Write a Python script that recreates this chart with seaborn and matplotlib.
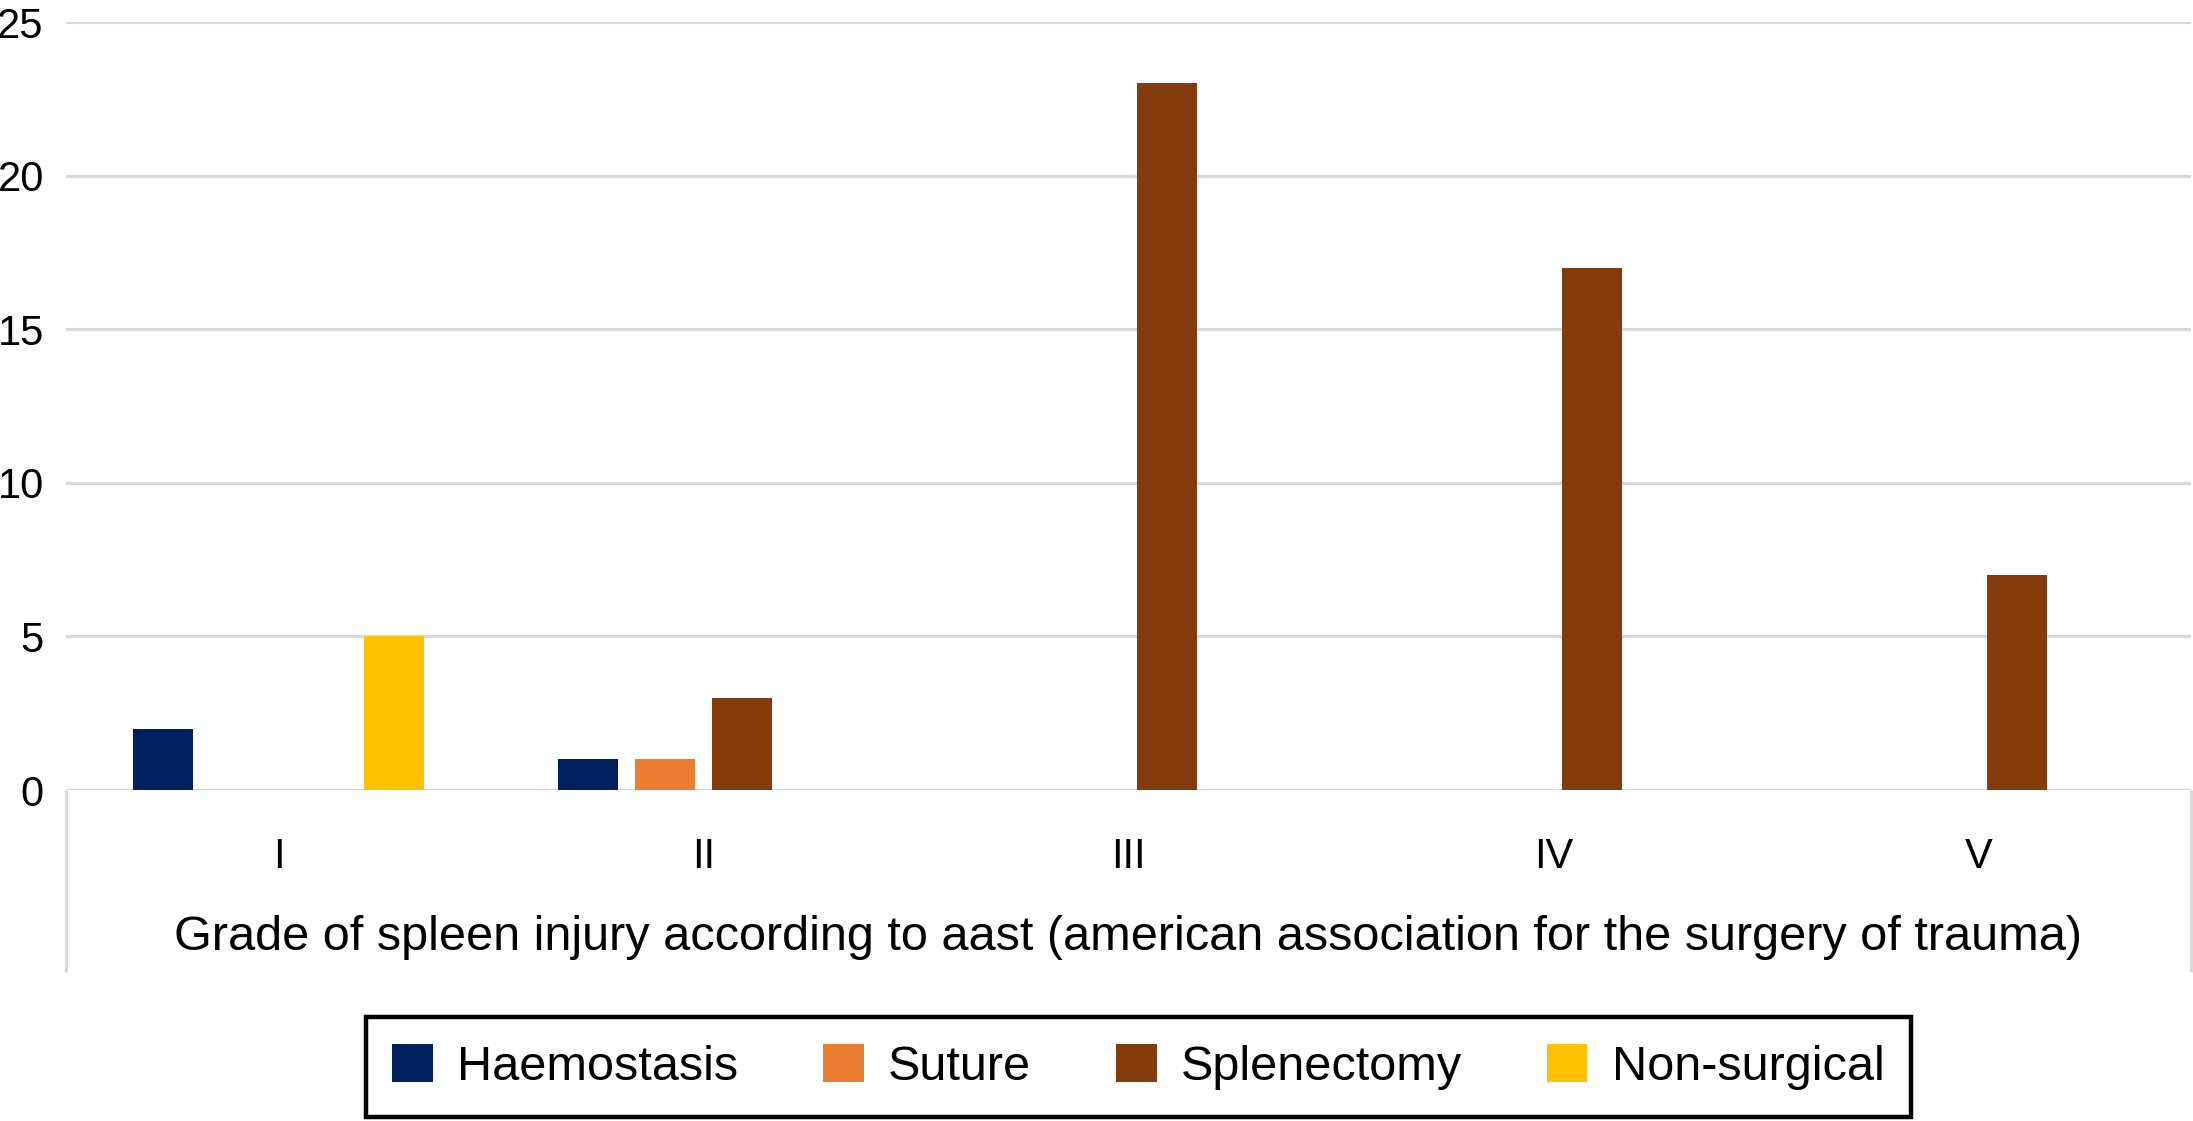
import matplotlib
matplotlib.use("Agg")
import matplotlib.pyplot as plt
import seaborn as sns
import pandas as pd

# ---- data ----
grades = ["I", "II", "III", "IV", "V"]
treatments = ["Haemostasis", "Suture", "Splenectomy", "Non-surgical"]
haemostasis = [2, 1, 0, 0, 0]
suture = [0, 1, 0, 0, 0]
splenectomy = [0, 3, 23, 17, 7]
non_surgical = [5, 0, 0, 0, 0]
y_ticks = [0, 5, 10, 15, 20, 25]
x_label = "Grade of spleen injury according to aast (american association for the surgery of trauma)"

colors = ["#002060", "#ED7D31", "#843C0C", "#FFC000"]

series = {"Haemostasis": haemostasis, "Suture": suture,
          "Splenectomy": splenectomy, "Non-surgical": non_surgical}
rows = []
for t in treatments:
    for g, v in zip(grades, series[t]):
        rows.append({"grade": g, "treatment": t, "count": v})
df = pd.DataFrame(rows)

sns.set_theme(style="white")
plt.rcParams["font.family"] = ["Liberation Sans", "DejaVu Sans"]
plt.rcParams["text.color"] = "black"

W, H = 2193, 1121
fig = plt.figure(figsize=(W / 100, H / 100), dpi=100)
ax_left, ax_right = 66, 2191
ax_top, ax_bottom = 22, 790
ax = fig.add_axes([ax_left / W, 1 - ax_bottom / H,
                   (ax_right - ax_left) / W, (ax_bottom - ax_top) / H])

sns.barplot(data=df, x="grade", y="count", hue="treatment",
            hue_order=treatments, order=grades, palette=colors,
            width=0.725, gap=0.22, errorbar=None, linewidth=0,
            saturation=1, ax=ax)

ax.set_ylim(0, 25)
ax.set_xlim(-0.5, 4.5)
ax.set_yticks(y_ticks)
ax.set_yticklabels([str(v) for v in y_ticks], fontsize=30, color="black")
ax.tick_params(axis="y", length=0, pad=16)
ax.tick_params(axis="x", length=0, pad=34, labelsize=30, labelcolor="black")
for s in ax.spines.values():
    s.set_visible(False)
ax.yaxis.grid(True, color="#d9d9d9", linewidth=2.3)
ax.set_axisbelow(True)
ax.set_ylabel("")

# category-area side lines below the axis
ext = -(972 - ax_bottom) / (ax_bottom - ax_top)
for xa in (0, 1):
    ax.plot([xa, xa], [0, ext], transform=ax.transAxes, color="#d9d9d9",
            linewidth=2.3, clip_on=False, solid_capstyle="butt")

ax.set_xlabel(x_label, fontsize=35, color="black", va="center")
ax.xaxis.set_label_coords(0.5, -(938 - ax_bottom) / (ax_bottom - ax_top))

sns.move_legend(ax, "center", bbox_to_anchor=(1138.5 / W, 1 - 1067 / H),
                bbox_transform=fig.transFigure, ncol=4, title=None,
                frameon=True, fontsize=35, handlelength=0.83, handleheight=0.83,
                handletextpad=0.5, columnspacing=1.75, borderpad=0.55,
                fancybox=False, edgecolor="black")
leg = ax.get_legend()
leg.get_frame().set_linewidth(3.2)
leg.get_frame().set_facecolor("white")
leg.get_frame().set_alpha(1)
for t in leg.get_texts():
    t.set_color("black")

fig.savefig("out.png", dpi=100, facecolor="white")
